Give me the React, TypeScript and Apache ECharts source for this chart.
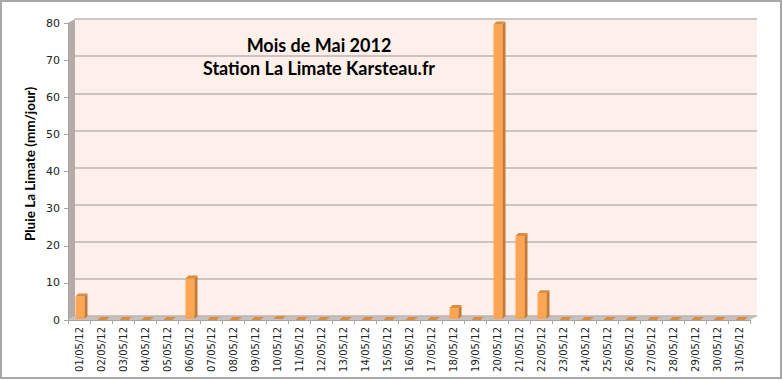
import React, { useEffect, useRef } from "react";
import * as echarts from "echarts";

const categories = [
  "01/05/12","02/05/12","03/05/12","04/05/12","05/05/12","06/05/12","07/05/12","08/05/12",
  "09/05/12","10/05/12","11/05/12","12/05/12","13/05/12","14/05/12","15/05/12","16/05/12",
  "17/05/12","18/05/12","19/05/12","20/05/12","21/05/12","22/05/12","23/05/12","24/05/12",
  "25/05/12","26/05/12","27/05/12","28/05/12","29/05/12","30/05/12","31/05/12",
];
const pluie = [
  6.3, 0, 0, 0, 0, 11.2, 0, 0, 0, 0.3, 0, 0, 0, 0, 0, 0,
  0, 3.2, 0, 79.6, 22.6, 7.2, 0, 0, 0, 0, 0, 0, 0, 0, 0,
];
const yTicks = [0, 10, 20, 30, 40, 50, 60, 70, 80];
const titleLines = ["Mois de Mai 2012", "Station La Limate Karsteau.fr"];
const yTitle = "Pluie La Limate (mm/jour)";

export default function App() {
  const ref = useRef<HTMLDivElement>(null);
  useEffect(() => {
    document.body.style.margin = "0";
    const chart = echarts.init(ref.current!, null, { renderer: "svg" });
    const D = 3;
    const option: any = {
      animation: false,
      backgroundColor: "#ffffff",
      grid: [
        { left: 75, right: 26, top: 19, bottom: 64, show: true, backgroundColor: "#fdefea", borderWidth: 0 },
        { left: 68, right: 33, top: 23, bottom: 60 },
      ],
      xAxis: [
        { gridIndex: 0, type: "category", data: categories, show: false },
        {
          gridIndex: 1,
          type: "category",
          data: categories,
          axisLine: { show: true, lineStyle: { color: "#a9a3a1" } },
          axisTick: { show: true, length: 4, lineStyle: { color: "#a9a3a1" } },
          axisLabel: { rotate: 90, fontSize: 10, color: "#222", fontFamily: "DejaVu Sans", margin: 7, interval: 0 },
        },
      ],
      yAxis: [
        {
          gridIndex: 0, type: "value", min: 0, max: 80, interval: 10,
          axisLine: { show: false }, axisTick: { show: false }, axisLabel: { show: false },
          splitLine: { show: true, lineStyle: { color: "#bdb6b3", width: 1.5 } },
        },
        {
          gridIndex: 1, type: "value", min: 0, max: 80, interval: 10,
          axisLine: { show: true, lineStyle: { color: "#a9a3a1" } },
          axisTick: { show: true, length: 4, lineStyle: { color: "#a9a3a1" } },
          axisLabel: {
            fontSize: 11, color: "#222", fontFamily: "DejaVu Sans", margin: 8,
            formatter: (v: number) => (yTicks.includes(v) ? String(v) : ""),
          },
          splitLine: { show: false },
        },
      ],
      graphic: [
        { type: "rect", shape: { x: 1, y: 1, width: 780, height: 377 }, style: { fill: "none", stroke: "#a8a8a8", lineWidth: 2 }, z: 100 },
        { type: "polygon", shape: { points: [[68, 23], [75, 19], [75, 316], [68, 320]] }, style: { fill: "#b4aaa7" }, z: 0 },
        { type: "polygon", shape: { points: [[68, 320], [75, 316], [757, 316], [750, 320]] }, style: { fill: "#c9c0bd" }, z: 0 },
        {
          type: "text", z: 50, x: 319, y: 36,
          style: { text: titleLines[0], font: "bold 18px Lato", fill: "#000", textAlign: "center" },
        },
        {
          type: "text", z: 50, x: 319, y: 59,
          style: { text: titleLines[1], font: "bold 18px Lato", fill: "#000", textAlign: "center" },
        },
        {
          type: "text", z: 50, x: 30, y: 164, rotation: Math.PI / 2,
          style: { text: yTitle, font: "bold 13.5px Lato", fill: "#000", textAlign: "center", textVerticalAlign: "middle" },
        },
      ],
      series: [
        {
          type: "custom",
          xAxisIndex: 1,
          yAxisIndex: 1,
          data: pluie.map((v, i) => [i, v]),
          z: 10,
          renderItem: (params: any, api: any) => {
            const i = api.value(0);
            const v = api.value(1);
            const top = api.coord([i, v]);
            const base = api.coord([i, 0]);
            const x0 = top[0] - 3.5;
            const x1 = top[0] + 5.5;
            const yt = top[1];
            const yb = base[1] - 1;
            const children: any[] = [];
            if (yb - yt > 0.5) {
              children.push({ type: "rect", shape: { x: x0, y: yt, width: x1 - x0, height: yb - yt }, style: { fill: "#fca654" } });
              children.push({ type: "polygon", shape: { points: [[x1, yt], [x1 + D, yt - D], [x1 + D, yb - D], [x1, yb]] }, style: { fill: "#c67b34" } });
            }
            children.push({ type: "polygon", shape: { points: [[x0, yt], [x1, yt], [x1 + D, yt - D], [x0 + D, yt - D]] }, style: { fill: "#dc8b3f" } });
            return { type: "group", children };
          },
        },
      ],
    };
    chart.setOption(option);
    return () => chart.dispose();
  }, []);
  return <div ref={ref} style={{ width: 783, height: 380 }} />;
}
